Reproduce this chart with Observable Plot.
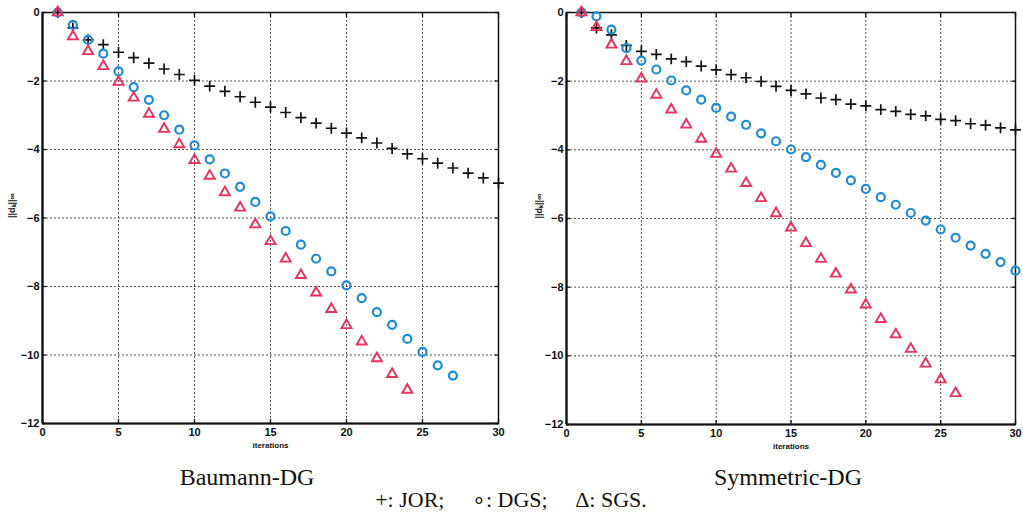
<!DOCTYPE html>
<html><head><meta charset="utf-8">
<script src="https://cdn.jsdelivr.net/npm/d3@7"></script>
<script src="https://cdn.jsdelivr.net/npm/@observablehq/plot@0.6"></script>
<style>
body{margin:0;background:#fff;}
#wrap{position:relative;width:1023px;height:513px;overflow:hidden;background:#fff;}
.panel{position:absolute;top:0;}
.cap{position:absolute;font-family:"Liberation Serif","Times New Roman",serif;font-size:24px;color:#111;white-space:nowrap;transform:translateX(-50%);line-height:1;}
</style></head><body>
<div id="wrap">
<div id="left" class="panel" style="left:0"></div>
<div id="right" class="panel" style="left:512px"></div>
<div class="cap" style="left:247px;top:465px">Baumann-DG</div>
<div class="cap" style="left:788px;top:465px">Symmetric-DG</div>
<div class="cap" style="left:511px;top:489px;font-size:22px">+: JOR;&nbsp;&nbsp;&nbsp;&nbsp; ∘: DGS;&nbsp;&nbsp;&nbsp;&nbsp; Δ: SGS.</div>
</div>
<script>
const iterations = [1,2,3,4,5,6,7,8,9,10,11,12,13,14,15,16,17,18,19,20,21,22,23,24,25,26,27,28,29,30];
const xTicks = [0,5,10,15,20,25,30];
const yTicks = [-12,-10,-8,-6,-4,-2,0];
const methodNames = ["JOR","DGS","SGS"];

// Baumann-DG
const baumannJOR = [0,-0.45,-0.8,-0.94,-1.16,-1.32,-1.48,-1.65,-1.81,-1.98,-2.15,-2.3,-2.46,-2.62,-2.76,-2.92,-3.07,-3.23,-3.38,-3.52,-3.66,-3.81,-3.97,-4.13,-4.27,-4.4,-4.54,-4.69,-4.83,-4.98];
const baumannDGS = [0,-0.36,-0.8,-1.2,-1.72,-2.18,-2.55,-3.0,-3.42,-3.88,-4.29,-4.7,-5.09,-5.53,-5.95,-6.38,-6.78,-7.19,-7.56,-7.97,-8.34,-8.75,-9.12,-9.53,-9.91,-10.3,-10.6];
const baumannSGS = [0,-0.7,-1.13,-1.57,-2.03,-2.49,-2.96,-3.4,-3.85,-4.31,-4.77,-5.25,-5.7,-6.19,-6.68,-7.19,-7.67,-8.18,-8.66,-9.13,-9.61,-10.1,-10.56,-11.02];

// Symmetric-DG
const symmetricJOR = [0,-0.45,-0.65,-0.96,-1.13,-1.22,-1.35,-1.43,-1.56,-1.67,-1.81,-1.9,-2.01,-2.15,-2.27,-2.37,-2.49,-2.54,-2.67,-2.72,-2.83,-2.88,-2.97,-3.01,-3.11,-3.15,-3.24,-3.28,-3.36,-3.42];
const symmetricDGS = [0,-0.11,-0.5,-1.04,-1.4,-1.66,-1.98,-2.27,-2.54,-2.78,-3.03,-3.27,-3.52,-3.75,-3.99,-4.21,-4.44,-4.67,-4.89,-5.14,-5.38,-5.6,-5.84,-6.06,-6.32,-6.56,-6.79,-7.03,-7.27,-7.52];
const symmetricSGS = [0,-0.43,-0.94,-1.42,-1.93,-2.4,-2.83,-3.27,-3.68,-4.12,-4.55,-4.97,-5.41,-5.85,-6.27,-6.72,-7.18,-7.61,-8.07,-8.51,-8.93,-9.38,-9.8,-10.23,-10.69,-11.09];

const rows = (vals, method) => vals.map((v, i) => ({iter: iterations[i], value: v, method}));

function panel({jor, dgs, sgs, width, marginLeft, marginRight, marginBottom, labelDx}) {
  const blank = () => "";
  return Plot.plot({
    width, height: 460, marginTop: 12, marginBottom, marginLeft, marginRight,
    style: {fontFamily: "'Liberation Sans', Arial, sans-serif", fontSize: "11px", fontWeight: "bold", background: "transparent", overflow: "visible", color: "#111"},
    x: {domain: [0, 30]},
    y: {domain: [-12, 0]},
    marks: [
      Plot.gridX(xTicks.slice(1, -1), {stroke: "#333", strokeOpacity: 0.85, strokeDasharray: "2,2"}),
      Plot.gridY(yTicks.slice(1, -1), {stroke: "#333", strokeOpacity: 0.85, strokeDasharray: "2,2"}),
      Plot.axisX(xTicks, {anchor: "bottom", tickSize: 0, tickPadding: 5, label: null}),
      Plot.axisY(yTicks, {anchor: "left", tickSize: 0, tickPadding: 3, label: null}),
      Plot.axisX(xTicks, {anchor: "top", tickSize: -4, tickFormat: blank, label: null, strokeWidth: 1.3}),
      Plot.axisX(xTicks, {anchor: "bottom", tickSize: -4, tickFormat: blank, label: null, strokeWidth: 1.3}),
      Plot.axisY(yTicks, {anchor: "right", tickSize: -4, tickFormat: blank, label: null, strokeWidth: 1.3}),
      Plot.axisY(yTicks, {anchor: "left", tickSize: -4, tickFormat: blank, label: null, strokeWidth: 1.3}),
      Plot.frame({stroke: "#111", strokeWidth: 1.5}),
      Plot.ruleX([0], {stroke: "#111", strokeWidth: 2.2}),
      Plot.ruleY([-12], {stroke: "#111", strokeWidth: 2.2}),
      Plot.text(["iterations"], {frameAnchor: "bottom", dy: 24, fontSize: 8, fontWeight: "bold", fill: "#111"}),
      Plot.text(["||dₖ||∞"], {frameAnchor: "left", rotate: -90, dx: labelDx, fontSize: 9, fontWeight: "bold", fill: "#111"}),
      Plot.dot(rows(jor, methodNames[0]), {x: "iter", y: "value", symbol: "plus", r: 3.6, stroke: "#111", strokeWidth: 1.7}),
      Plot.dot(rows(dgs, methodNames[1]), {x: "iter", y: "value", symbol: "circle", r: 4, fill: "none", stroke: "#1f8bd3", strokeWidth: 2.2}),
      Plot.dot(rows(sgs, methodNames[2]), {x: "iter", y: "value", symbol: "triangle", r: 3.7, fill: "none", stroke: "#e8325c", strokeWidth: 1.9})
    ]
  });
}

document.getElementById("left").appendChild(panel({
  jor: baumannJOR, dgs: baumannDGS, sgs: baumannSGS,
  width: 510, marginLeft: 42, marginRight: 12, marginBottom: 37, labelDx: -30
}));
document.getElementById("right").appendChild(panel({
  jor: symmetricJOR, dgs: symmetricDGS, sgs: symmetricSGS,
  width: 511, marginLeft: 54, marginRight: 8, marginBottom: 36, labelDx: -27
}));
</script>
</body></html>
